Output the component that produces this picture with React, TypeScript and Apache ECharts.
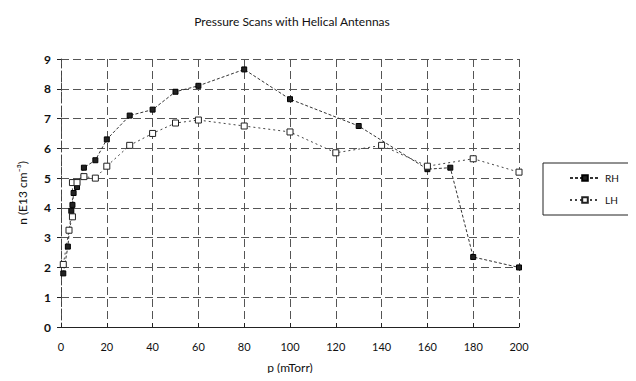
import React, { useEffect, useRef } from "react";
import * as echarts from "echarts";

const titleText = "Pressure Scans with Helical Antennas";
const xName = "p (mTorr)";
const yName = "n (E13 cm⁻³)";

const rhP = [1, 3, 4.5, 5, 5.5, 7, 10, 15, 20, 30, 40, 50, 60, 80, 100, 130, 160, 170, 180, 200];
const rhN = [1.8, 2.7, 3.9, 4.1, 4.5, 4.7, 5.35, 5.6, 6.3, 7.1, 7.3, 7.9, 8.1, 8.65, 7.65, 6.75, 5.3, 5.35, 2.35, 2.0];

const lhP = [1, 3.5, 5, 5, 7, 10, 15, 20, 30, 40, 50, 60, 80, 100, 120, 140, 160, 180, 200];
const lhN = [2.1, 3.25, 3.7, 4.85, 4.85, 5.05, 5.0, 5.4, 6.1, 6.5, 6.85, 6.95, 6.75, 6.55, 5.85, 6.1, 5.4, 5.65, 5.2];

const FONT = "Lato";

export default function App() {
  const ref = useRef<HTMLDivElement>(null);
  useEffect(() => {
    if (!ref.current) return;
    const chart = echarts.init(ref.current, undefined, { renderer: "svg" });
    chart.setOption({
      animation: false,
      backgroundColor: "#ffffff",
      title: {
        text: titleText,
        left: 287,
        top: 10,
        textAlign: "center",
        textStyle: { fontFamily: FONT, fontSize: 12, fontWeight: "normal", color: "#111" },
      },
      grid: { left: 61, right: 117, top: 59, bottom: 54 },
      legend: {
        orient: "vertical",
        left: 543,
        top: 163,
        width: 83,
        borderColor: "#222",
        borderWidth: 1,
        padding: [10, 10, 10, 26],
        itemGap: 12,
        itemWidth: 30,
        itemHeight: 7,
        textStyle: { fontFamily: FONT, fontSize: 10, color: "#111" },
        data: ["RH", "LH"],
      },
      xAxis: {
        type: "value",
        min: 0,
        max: 200,
        interval: 20,
        name: xName,
        nameLocation: "middle",
        nameGap: 34,
        nameTextStyle: { fontFamily: FONT, fontSize: 12, color: "#111" },
        axisLine: { show: true, lineStyle: { color: "#222", width: 1 } },
        axisTick: { show: true, length: 4, inside: true, lineStyle: { color: "#222" } },
        axisLabel: { fontFamily: FONT, fontSize: 11, color: "#111", margin: 14 },
        splitLine: { show: true, lineStyle: { color: "#555", width: 1, type: [8, 4] } },
      },
      yAxis: {
        type: "value",
        min: 0,
        max: 9,
        interval: 1,
        name: yName,
        nameLocation: "middle",
        nameGap: 33,
        nameTextStyle: { fontFamily: FONT, fontSize: 12, color: "#111" },
        axisLine: { show: true, lineStyle: { color: "#444", width: 1, type: [4, 3] } },
        axisTick: { show: true, length: 4, lineStyle: { color: "#222" } },
        axisLabel: { fontFamily: FONT, fontSize: 12, fontWeight: "bold", color: "#111", margin: 10 },
        splitLine: { show: true, lineStyle: { color: "#555", width: 1, type: [8, 4] } },
      },
      series: [
        {
          name: "RH",
          type: "line",
          data: rhP.map((p, i) => [p, rhN[i]]),
          symbol: "rect",
          symbolSize: 5,
          itemStyle: { color: "#222", borderColor: "#000", borderWidth: 1 },
          lineStyle: { color: "#333", width: 1, type: [3, 2] },
        },
        {
          name: "LH",
          type: "line",
          data: lhP.map((p, i) => [p, lhN[i]]),
          symbol: "rect",
          symbolSize: 6,
          itemStyle: { color: "#fff", borderColor: "#222", borderWidth: 1 },
          lineStyle: { color: "#444", width: 1, type: [2, 3] },
        },
      ],
    });
    return () => chart.dispose();
  }, []);
  return <div ref={ref} style={{ width: 636, height: 381, margin: -8 }} />;
}
